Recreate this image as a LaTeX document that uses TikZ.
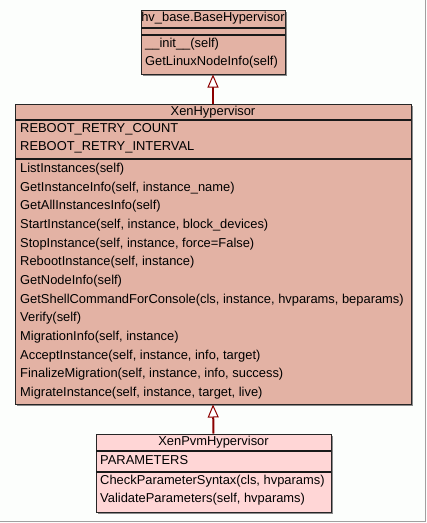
\documentclass[tikz,border=0pt]{standalone}
\usepackage{fontspec}
\setmainfont{Liberation Sans}
\usetikzlibrary{arrows.meta}
\definecolor{bgc}{RGB}{252,254,252}
\definecolor{salmon}{RGB}{227,178,164}
\definecolor{pinkc}{RGB}{255,214,214}
\definecolor{arrc}{RGB}{139,0,0}
\definecolor{framec}{RGB}{160,160,160}
\tikzset{
  classbox/.style={draw=black!85, line width=1pt, inner sep=0pt, fill=salmon},
  shadowbox/.style={fill=black!45, draw=none},
  sepline/.style={draw=black!90, line width=1.5pt},
  lbl/.style={anchor=west, inner sep=0pt, font=\fontsize{12.9}{14}\selectfont},
  ttl/.style={anchor=center, inner sep=0pt, font=\fontsize{12.9}{14}\selectfont},
  inherit/.style={draw=arrc, line width=2pt, -{Triangle[length=13pt, width=11pt, fill=white, line width=1pt]}}
}
\begin{document}
\begin{tikzpicture}[x=1pt,y=-1pt]
\useasboundingbox (0,0) rectangle (427,523);
\fill[bgc] (0,0) rectangle (427,523);
\draw[framec, line width=1.5pt] (425.5,0) -- (425.5,521.5) -- (0,521.5);

% shadows
\fill[shadowbox] (143,12) rectangle (287,76);
\fill[shadowbox] (17,106) rectangle (413,406);
\fill[shadowbox] (98,436) rectangle (333,514);

% base class
\node[classbox, minimum width=144pt, minimum height=64pt] (base) at (213,42) {};
\draw[sepline] (141,28) -- (285,28);
\draw[sepline] (141,35) -- (285,35);
\node[ttl] (baset) at (213,18) {hv\_base.BaseHypervisor};
\node[lbl] (b1) at (145,44) {\_\_init\_\_(self)};
\node[lbl] (b2) at (145,62) {GetLinuxNodeInfo(self)};

% XenHypervisor
\node[classbox, minimum width=396pt, minimum height=300pt] (xen) at (213,254) {};
\draw[sepline] (15,120) -- (411,120);
\draw[sepline] (15,159) -- (411,159);
\node[ttl] (xent) at (213,112) {XenHypervisor};
\node[lbl] (a1) at (20,129) {REBOOT\_RETRY\_COUNT};
\node[lbl] (a2) at (20,147.5) {REBOOT\_RETRY\_INTERVAL};
\node[lbl] (m1) at (20,169) {ListInstances(self)};
\node[lbl] (m2) at (20,187.7) {GetInstanceInfo(self, instance\_name)};
\node[lbl] (m3) at (20,206.3) {GetAllInstancesInfo(self)};
\node[lbl] (m4) at (20,225) {StartInstance(self, instance, block\_devices)};
\node[lbl] (m5) at (20,243.7) {StopInstance(self, instance, force=False)};
\node[lbl] (m6) at (20,262.3) {RebootInstance(self, instance)};
\node[lbl] (m7) at (20,281) {GetNodeInfo(self)};
\node[lbl] (m8) at (20,299.7) {GetShellCommandForConsole(cls, instance, hvparams, beparams)};
\node[lbl] (m9) at (20,318.3) {Verify(self)};
\node[lbl] (m10) at (20,337) {MigrationInfo(self, instance)};
\node[lbl] (m11) at (20,355.7) {AcceptInstance(self, instance, info, target)};
\node[lbl] (m12) at (20,374.3) {FinalizeMigration(self, instance, info, success)};
\node[lbl] (m13) at (20,393) {MigrateInstance(self, instance, target, live)};

% XenPvmHypervisor
\node[classbox, fill=pinkc, minimum width=235pt, minimum height=78pt] (pvm) at (213.5,473) {};
\draw[sepline] (96,451) -- (331,451);
\draw[sepline] (96,472) -- (331,472);
\node[ttl] (pvmt) at (213.5,442) {XenPvmHypervisor};
\node[lbl] (p1) at (100,460) {PARAMETERS};
\node[lbl] (p2) at (100,481) {CheckParameterSyntax(cls, hvparams)};
\node[lbl] (p3) at (100,499.5) {ValidateParameters(self, hvparams)};

% inheritance
\draw[inherit] (xen.north) -- (base.south);
\draw[inherit] (pvm.north) -- (xen.south);
\end{tikzpicture}
\end{document}
